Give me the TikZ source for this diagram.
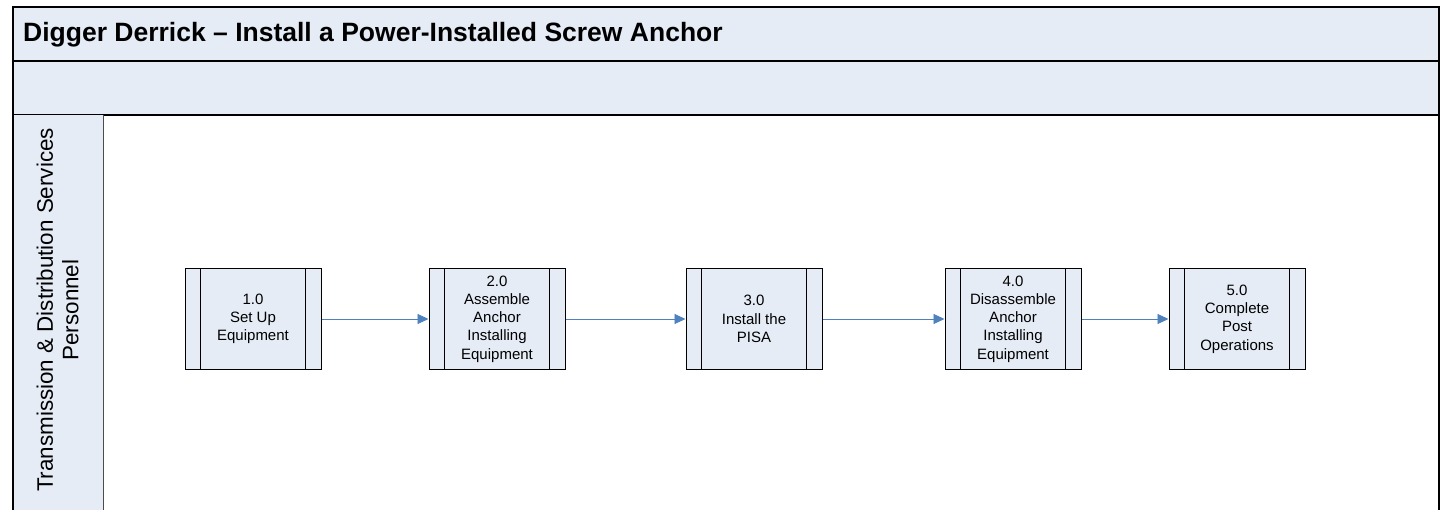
\documentclass[tikz,border=0pt]{standalone}
\usepackage{fontspec}
\setmainfont{Liberation Sans}
\usetikzlibrary{arrows.meta}
\definecolor{bandfill}{HTML}{E5ECF6}
\definecolor{arrowblue}{HTML}{4F81BD}
\tikzset{
  procbox/.style={draw=black, fill=bandfill, line width=1pt, minimum width=136pt, minimum height=100pt, align=center, font=\fontsize{15}{18.3}\selectfont, inner sep=0pt},
  flow/.style={draw=arrowblue, line width=0.9pt, -{Triangle[length=11pt,width=10pt]}},
  band/.style={draw=black, fill=bandfill, line width=1.2pt}
}
\begin{document}
\begin{tikzpicture}[x=1pt,y=-1pt]
\useasboundingbox (0,0) rectangle (1445,510);
% bands
\draw[band] (13,7) rectangle (1439,61);
\draw[band] (13,61) rectangle (1439,115);
\fill[bandfill] (13,115) rectangle (103,512);
\draw[black, line width=1.2pt] (13,115) -- (13,512);
\draw[black, line width=1.6pt] (1439,115) -- (1439,512);
\draw[black!70, line width=0.8pt] (103,115) -- (103,512);
\node[anchor=west, inner sep=0pt, font=\bfseries\fontsize{26.5}{30}\selectfont] (title) at (23,35) {Digger Derrick – Install a Power-Installed Screw Anchor};
\node[rotate=90, align=center, font=\fontsize{22.4}{25.5}\selectfont] (lane) at (57.5,310) {Transmission \& Distribution Services\\Personnel};
% boxes
\node[procbox] (p1) at (253,319) {1.0\\Set Up\\Equipment};
\node[procbox] (p2) at (497,319) {2.0\\Assemble\\Anchor\\Installing\\Equipment};
\node[procbox] (p3) at (754,319) {3.0\\Install the\\PISA};
\node[procbox] (p4) at (1013,319) {4.0\\Disassemble\\Anchor\\Installing\\Equipment};
\node[procbox] (p5) at (1237,319) {5.0\\Complete\\Post\\Operations};
\foreach \n in {p1,p2,p3,p4,p5}{
  \draw[black, line width=1pt] ([xshift=16pt]\n.north west) -- ([xshift=16pt]\n.south west);
  \draw[black, line width=1pt] ([xshift=-16pt]\n.north east) -- ([xshift=-16pt]\n.south east);
}
\draw[flow] (p1) -- (p2);
\draw[flow] (p2) -- (p3);
\draw[flow] (p3) -- (p4);
\draw[flow] (p4) -- (p5);
\end{tikzpicture}
\end{document}
